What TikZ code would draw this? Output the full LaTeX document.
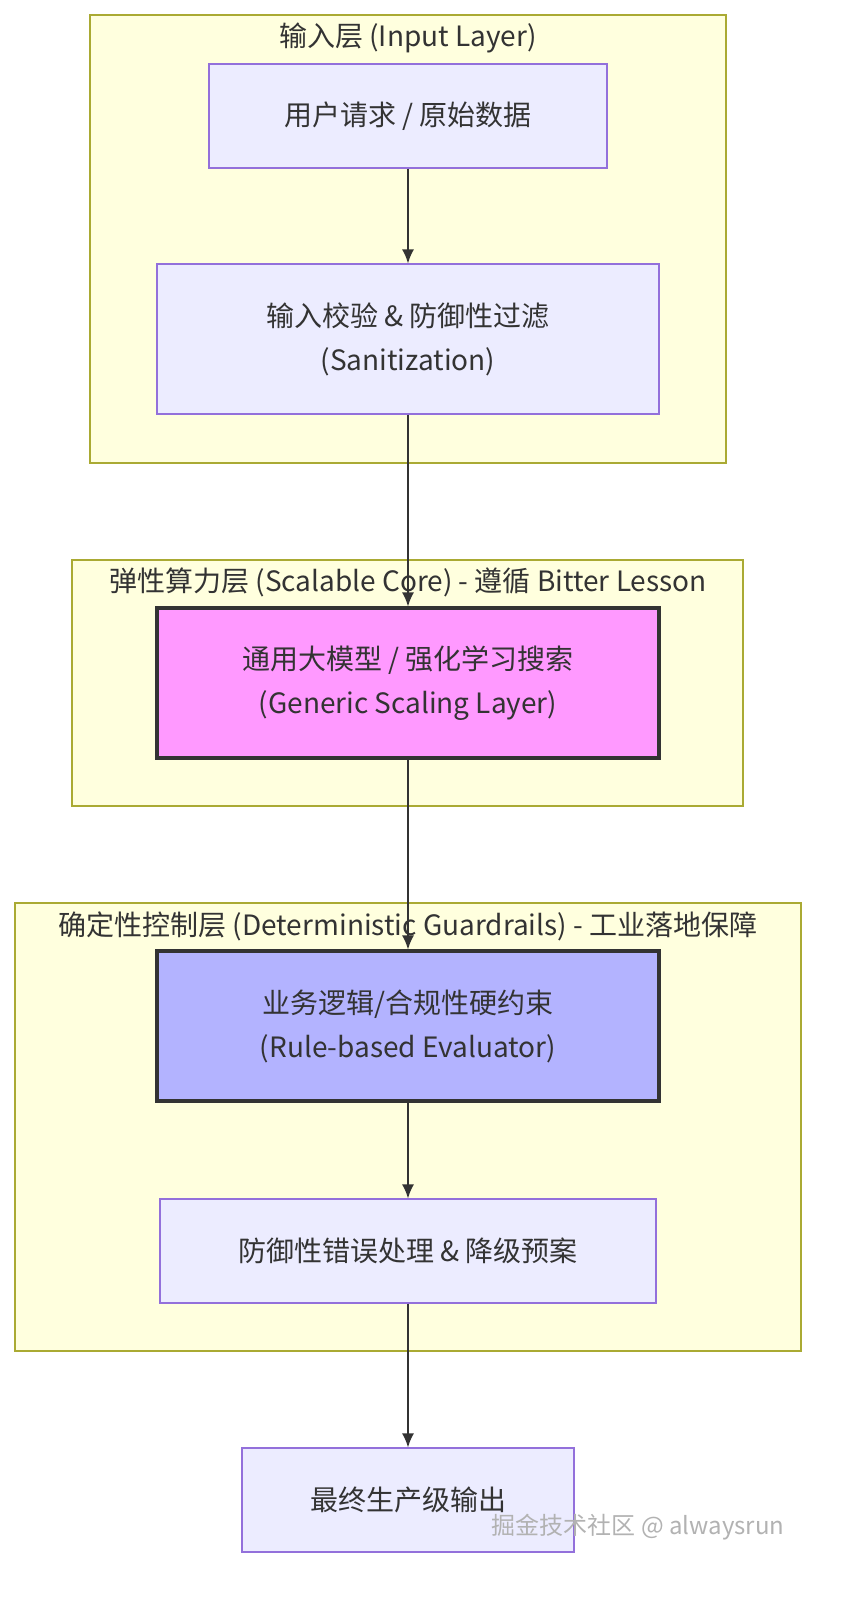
\documentclass[tikz,border=0pt]{standalone}
\usepackage{fontspec}
\setmainfont{Noto Sans CJK SC}
\usetikzlibrary{arrows.meta, positioning}
\definecolor{layerfill}{HTML}{FFFFDE}
\definecolor{layerline}{HTML}{AAAA33}
\definecolor{nodefill}{HTML}{ECECFF}
\definecolor{nodeline}{HTML}{9370DB}
\definecolor{corefill}{HTML}{FF99FF}
\definecolor{rulefill}{HTML}{B3B3FF}
\definecolor{txt}{HTML}{333333}
\tikzset{
  layer/.style={draw=layerline, fill=layerfill, line width=0.6pt},
  layertitle/.style={font=\fontsize{14}{16}\selectfont, text=txt},
  stage/.style={draw=nodeline, fill=nodefill, line width=0.6pt, font=\fontsize{14}{22}\selectfont,
    text=txt, align=center, inner sep=0pt},
  core/.style={stage, draw=txt, line width=1.6pt},
  flow/.style={-{Latex[length=7pt,width=6pt]}, draw=txt, line width=0.8pt}
}
\begin{document}
\begin{tikzpicture}[x=0.5pt, y=-0.5pt]
\useasboundingbox (0,0) rectangle (845,1624);
% Layers
\draw[layer] (90,15) rectangle (726,463);
\node[layertitle] (inT) at (408,38) {输入层 (Input Layer)};
\draw[layer] (72,560) rectangle (743,806);
\node[layertitle] (coreT) at (408,582) {弹性算力层 (Scalable Core) - 遵循 Bitter Lesson};
\draw[layer] (15,903) rectangle (801,1351);
\node[layertitle] (guardT) at (408,926) {确定性控制层 (Deterministic Guardrails) - 工业落地保障};

% Nodes
\node[stage, minimum width=199pt, minimum height=52pt] (req) at (408,116) {用户请求 / 原始数据};
\node[stage, minimum width=251pt, minimum height=75pt] (san) at (408,339) {输入校验 \& 防御性过滤\\(Sanitization)};
\node[core, fill=corefill, minimum width=251pt, minimum height=75pt] (gen) at (408,683) {通用大模型 / 强化学习搜索\\(Generic Scaling Layer)};
\node[core, fill=rulefill, minimum width=251pt, minimum height=75pt] (rule) at (408,1026) {业务逻辑/合规性硬约束\\(Rule-based Evaluator)};
\node[stage, minimum width=248pt, minimum height=52pt] (err) at (408,1251) {防御性错误处理 \& 降级预案};
\node[stage, minimum width=166pt, minimum height=52pt] (out) at (408,1500) {最终生产级输出};

% Flow
\draw[flow] (req) -- (san);
\draw[flow] (san) -- (gen);
\draw[flow] (gen) -- (rule);
\draw[flow] (rule) -- (err);
\draw[flow] (err) -- (out);

% Watermark
\node[text=gray!60, font=\fontsize{12}{14}\selectfont] (mark) at (638,1527) {掘金技术社区 @ alwaysrun};
\end{tikzpicture}
\end{document}
